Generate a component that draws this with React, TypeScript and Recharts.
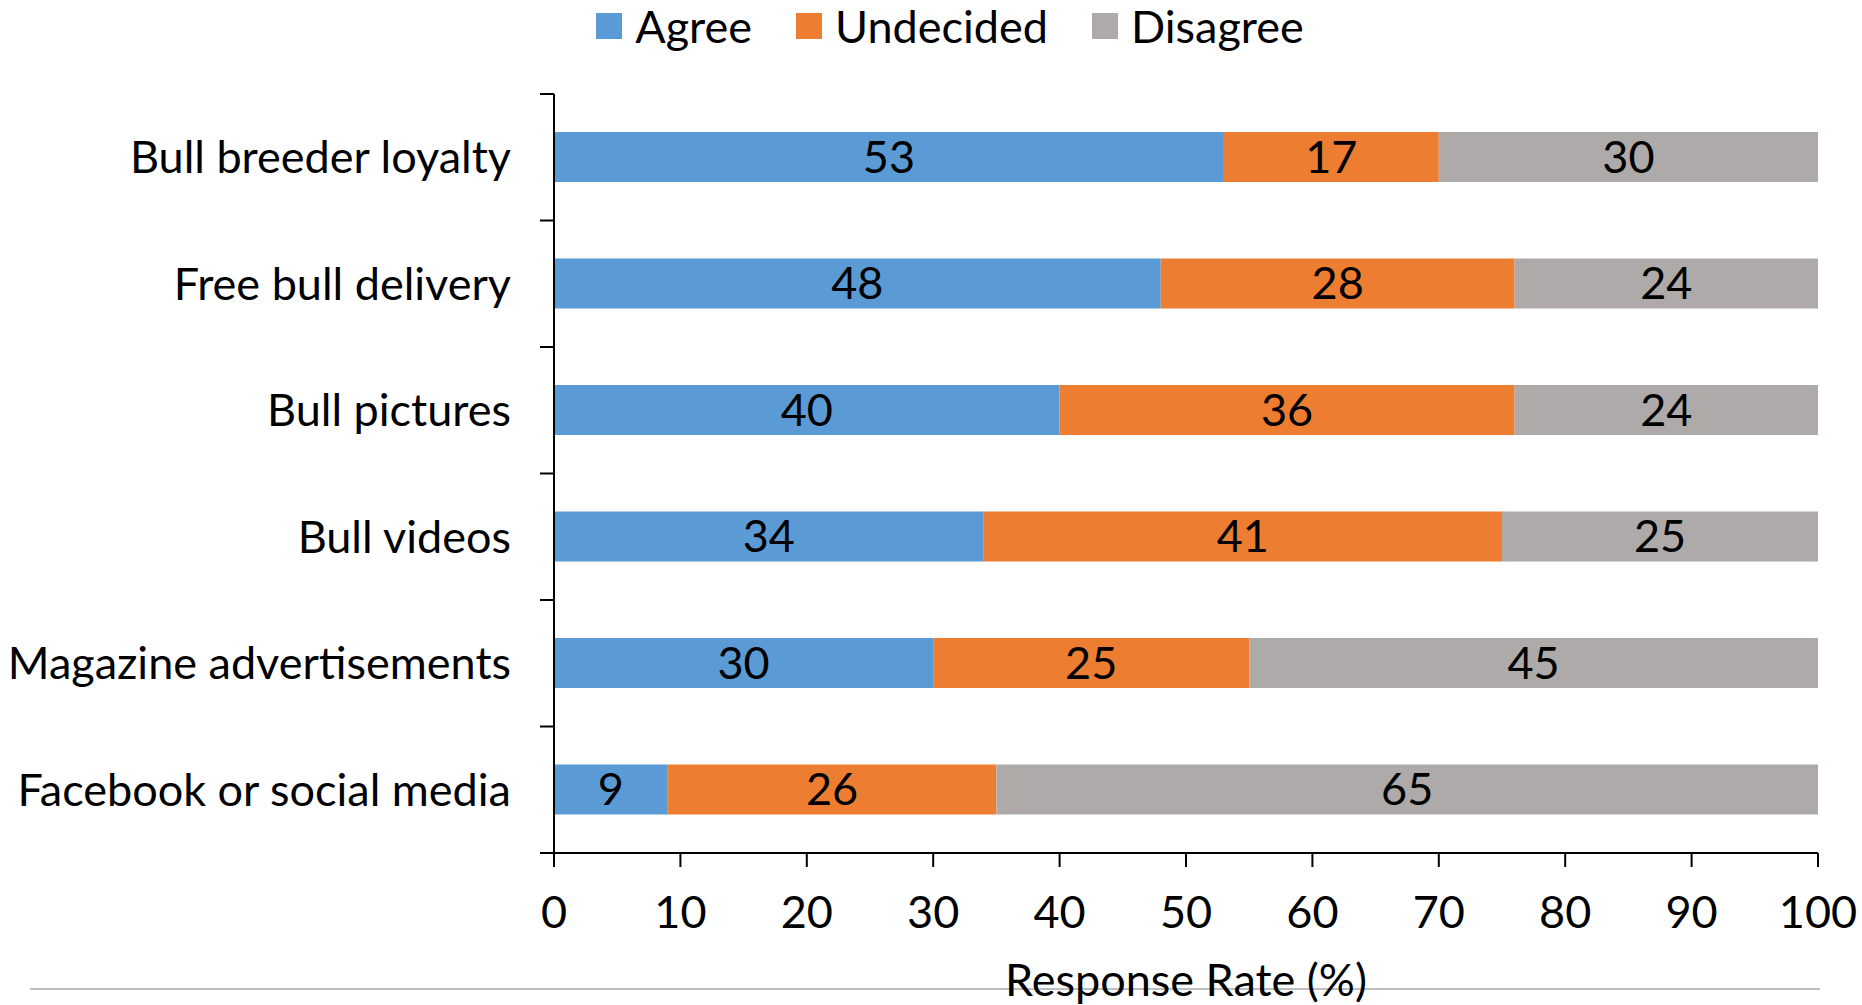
import React from "react";
import { BarChart, Bar, XAxis, YAxis, Legend, LabelList } from "recharts";

const items = [
  "Bull breeder loyalty",
  "Free bull delivery",
  "Bull pictures",
  "Bull videos",
  "Magazine advertisements",
  "Facebook or social media",
];
const agree = [53, 48, 40, 34, 30, 9];
const undecided = [17, 28, 36, 41, 25, 26];
const disagree = [30, 24, 24, 25, 45, 65];
const xTicks = [0, 10, 20, 30, 40, 50, 60, 70, 80, 90, 100];
// category boundaries, used only for the tick marks on the y axis
const edgeTicks = [0, 1, 2, 3, 4, 5, 6];

const series = [
  { key: "agree", name: "Agree", color: "#5B9BD5" },
  { key: "undecided", name: "Undecided", color: "#ED7D31" },
  { key: "disagree", name: "Disagree", color: "#AEAAAA" },
];

const rows = items.map((item, i) => ({
  item,
  agree: agree[i],
  undecided: undecided[i],
  disagree: disagree[i],
}));

const FS = 45;

function LegendBox() {
  return (
    <div style={{ display: "flex", justifyContent: "center", paddingLeft: 82, height: 52, alignItems: "center" }}>
      {series.map((s, i) => (
        <div key={s.key} style={{ display: "flex", alignItems: "center", marginLeft: i ? 44 : 0 }}>
          <span style={{ width: 26, height: 26, background: s.color, display: "inline-block", marginRight: 13 }} />
          <span style={{ fontSize: FS, color: "#000", lineHeight: "52px" }}>{s.name}</span>
        </div>
      ))}
    </div>
  );
}

export default function App() {
  return (
    <div style={{ position: "absolute", left: 0, top: 0, width: 1862, height: 1005, fontFamily: "Lato", background: "#fff" }}>
      <div style={{ position: "absolute", left: 30, top: 988, width: 1790, height: 2, background: "#BFBFBF" }} />
      <BarChart
        width={1862}
        height={1005}
        data={rows}
        layout="vertical"
        barSize={50}
        margin={{ top: 42, right: 44, bottom: 0, left: 0 }}
      >
        <Legend verticalAlign="top" align="center" wrapperStyle={{ top: 0 }} content={() => <LegendBox />} />
        <XAxis
          type="number"
          domain={[0, 100]}
          ticks={xTicks}
          height={152}
          tickSize={14}
          tickMargin={29}
          axisLine={{ stroke: "#000", strokeWidth: 2 }}
          tickLine={{ stroke: "#000", strokeWidth: 2 }}
          tick={{ fill: "#000", fontSize: FS }}
          label={{ value: "Response Rate (%)", position: "insideBottom", offset: 9, fill: "#000", fontSize: FS }}
        />
        <YAxis
          yAxisId="cat"
          type="category"
          dataKey="item"
          width={553}
          axisLine={false}
          tickLine={false}
          tickSize={0}
          tickMargin={42}
          tick={{ fill: "#000", fontSize: FS }}
        />
        <YAxis
          yAxisId="a"
          type="number"
          dataKey="agree"
          domain={[0, 6]}
          allowDataOverflow
          ticks={edgeTicks}
          interval={0}
          width={1}
          tickFormatter={() => ""}
          tickSize={14}
          axisLine={{ stroke: "#000", strokeWidth: 2 }}
          tickLine={{ stroke: "#000", strokeWidth: 2 }}
        />
        {series.map((s) => (
          <Bar key={s.key} yAxisId="cat" dataKey={s.key} name={s.name} stackId="a" fill={s.color} isAnimationActive={false}>
            <LabelList dataKey={s.key} position="center" fill="#000" fontSize={FS} />
          </Bar>
        ))}
      </BarChart>
    </div>
  );
}
